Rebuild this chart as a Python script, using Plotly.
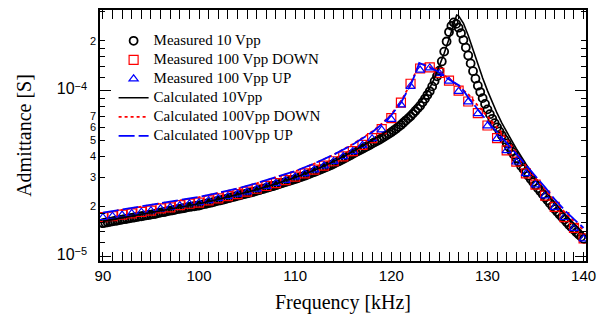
import plotly.graph_objects as go

# ---------------- data (admittance in S, frequency in kHz) ----------------
f_meas10 = [90, 90.25, 90.5, 90.75, 91, 91.25, 91.5, 91.75, 92, 92.25, 92.5, 92.75,
            93, 93.25, 93.5, 93.75, 94, 94.25, 94.5, 94.75, 95, 95.25, 95.5, 95.75,
            96, 96.25, 96.5, 96.75, 97, 97.25, 97.5, 97.75, 98, 98.25, 98.5, 98.75,
            99, 99.25, 99.5, 99.75, 100, 100.25, 100.5, 100.75, 101, 101.25, 101.5, 101.75,
            102, 102.25, 102.5, 102.75, 103, 103.25, 103.5, 103.75, 104, 104.25, 104.5, 104.75,
            105, 105.25, 105.5, 105.75, 106, 106.25, 106.5, 106.75, 107, 107.25, 107.5, 107.75,
            108, 108.25, 108.5, 108.75, 109, 109.25, 109.5, 109.75, 110, 110.25, 110.5, 110.75,
            111, 111.25, 111.5, 111.75, 112, 112.25, 112.5, 112.75, 113, 113.25, 113.5, 113.75,
            114, 114.25, 114.5, 114.75, 115, 115.25, 115.5, 115.75, 116, 116.25, 116.5, 116.75,
            117, 117.25, 117.5, 117.75, 118, 118.25, 118.5, 118.75, 119, 119.25, 119.5, 119.75,
            120, 120.25, 120.5, 120.75, 121, 121.25, 121.5, 121.75, 122, 122.25, 122.5, 122.75,
            123, 123.25, 123.5, 123.75, 124, 124.25, 124.5, 124.75, 125, 125.25, 125.5, 125.75,
            126, 126.25, 126.5, 126.75, 127, 127.25, 127.5, 127.75, 128, 128.25, 128.5, 128.75,
            129, 129.25, 129.5, 129.75, 130, 130.25, 130.5, 130.75, 131, 131.25, 131.5, 131.75,
            132, 132.25, 132.5, 132.75, 133, 133.25, 133.5, 133.75, 134, 134.25, 134.5, 134.75,
            135, 135.25, 135.5, 135.75, 136, 136.25, 136.5, 136.75, 137, 137.25, 137.5, 137.75,
            138, 138.25, 138.5, 138.75, 139, 139.25, 139.5, 139.75, 140]
y_meas10_e5 = [1.58, 1.59, 1.60, 1.61, 1.62, 1.63, 1.64, 1.65, 1.66, 1.67, 1.68, 1.69,
               1.70, 1.71, 1.72, 1.73, 1.74, 1.75, 1.76, 1.77, 1.78, 1.79, 1.80, 1.82,
               1.83, 1.84, 1.85, 1.87, 1.88, 1.89, 1.90, 1.92, 1.93, 1.94, 1.95, 1.97,
               1.98, 1.99, 2.00, 2.01, 2.02, 2.04, 2.06, 2.07, 2.09, 2.10, 2.12, 2.14,
               2.16, 2.17, 2.19, 2.21, 2.23, 2.25, 2.27, 2.29, 2.31, 2.33, 2.35, 2.37,
               2.39, 2.41, 2.43, 2.45, 2.48, 2.50, 2.53, 2.55, 2.58, 2.60, 2.63, 2.65,
               2.68, 2.71, 2.74, 2.77, 2.80, 2.83, 2.86, 2.89, 2.92, 2.95, 2.99, 3.02,
               3.06, 3.10, 3.14, 3.18, 3.22, 3.26, 3.31, 3.35, 3.40, 3.45, 3.50, 3.55,
               3.61, 3.67, 3.73, 3.79, 3.86, 3.93, 4.00, 4.07, 4.15, 4.22, 4.30, 4.37,
               4.45, 4.53, 4.61, 4.69, 4.78, 4.87, 4.96, 5.05, 5.15, 5.26, 5.37, 5.48,
               5.60, 5.74, 5.88, 6.04, 6.20, 6.39, 6.59, 6.79, 7.00, 7.26, 7.53, 7.81,
               8.10, 8.50, 8.92, 9.40, 9.90, 10.6, 11.4, 12.2, 13.2, 15.0, 17.2, 19.8,
               22.6, 24.6, 25.8, 25.3, 24.0, 22.2, 20.2, 18.2, 16.3, 14.6, 13.1, 11.8,
               10.7, 9.8, 9.0, 8.3, 7.7, 7.2, 6.75, 6.35, 6.00, 5.67, 5.35, 5.07,
               4.80, 4.55, 4.30, 4.10, 3.90, 3.70, 3.50, 3.35, 3.20, 3.06, 2.92, 2.80,
               2.68, 2.57, 2.46, 2.36, 2.26, 2.17, 2.08, 2.00, 1.92, 1.85, 1.78, 1.72,
               1.66, 1.60, 1.54, 1.49, 1.44, 1.39, 1.35, 1.31, 1.27]

f_meas100 = [90, 91, 92, 93, 94, 95, 96, 97, 98, 99,
             100, 101, 102, 103, 104, 105, 106, 107, 108, 109,
             110, 111, 112, 113, 114, 115, 116, 117, 118, 119,
             120, 121, 122, 123, 124, 125, 126, 127, 128, 129,
             130, 131, 132, 133, 134, 135, 136, 137, 138, 139, 140]
y_meas100_down_e5 = [1.72, 1.74, 1.78, 1.81, 1.85, 1.88, 1.94, 1.97, 2.03, 2.07,
                     2.10, 2.17, 2.23, 2.30, 2.37, 2.45, 2.55, 2.65, 2.76, 2.88,
                     3.02, 3.16, 3.33, 3.52, 3.74, 4.00, 4.30, 4.70, 5.16, 5.85,
                     6.81, 8.45, 11.0, 13.6, 13.8, 12.8, 11.5, 10.0, 8.59, 7.30,
                     6.15, 5.16, 4.35, 3.72, 3.16, 2.70, 2.32, 1.98, 1.72, 1.48, 1.28]
y_meas100_up_e5 = [1.71, 1.74, 1.77, 1.81, 1.84, 1.88, 1.93, 1.97, 2.02, 2.07,
                   2.10, 2.16, 2.23, 2.29, 2.37, 2.44, 2.54, 2.64, 2.75, 2.87,
                   3.01, 3.15, 3.32, 3.51, 3.73, 3.99, 4.28, 4.67, 5.12, 5.78,
                   6.70, 8.20, 10.6, 13.3, 13.7, 12.7, 11.4, 9.9, 8.55, 7.25,
                   6.12, 5.13, 4.33, 3.70, 3.15, 2.69, 2.31, 1.97, 1.71, 1.47, 1.27]

f_calc10 = [90, 92, 94, 96, 98, 100, 102, 104, 106, 108, 110, 112, 114, 116, 117, 118, 119, 120,
            121, 122, 123, 123.5, 124, 124.5, 125, 125.5, 126, 126.5, 126.8, 127, 127.5, 128,
            128.5, 129, 129.5, 130, 130.5, 131, 131.5, 132, 132.5, 133, 134, 135, 136, 137, 138, 139, 140]
y_calc10_e5 = [1.62, 1.70, 1.78, 1.88, 1.97, 2.07, 2.20, 2.35, 2.52, 2.73,
               2.98, 3.30, 3.72, 4.28, 4.62, 5.00, 5.42, 5.92,
               6.55, 7.35, 8.50, 9.30, 10.4, 11.9, 14.0, 16.8, 20.5, 25.5,
               28.6, 28.3, 25.5, 21.5,
               17.6, 14.4, 11.9, 10.0, 8.5, 7.3, 6.35, 5.6, 5.0, 4.45,
               3.6, 2.95, 2.47, 2.10, 1.80, 1.57, 1.37]

f_calc100_down = [90, 92, 94, 96, 98, 100, 102, 104, 106, 108, 110, 112, 114, 116, 117, 118, 119, 120,
                  121, 122, 122.5, 122.9, 123.3, 124, 125, 126, 127, 128, 129, 130, 131, 132, 133,
                  134, 135, 136, 137, 138, 139, 140]
y_calc100_down_e5 = [1.82, 1.90, 1.98, 2.08, 2.17, 2.27, 2.40, 2.55, 2.75, 2.98,
                     3.25, 3.62, 4.10, 4.75, 5.15, 5.65, 6.30, 7.20,
                     8.60, 11.0, 12.8, 14.5, 14.5, 13.9, 12.9, 11.8, 10.6, 9.5,
                     8.1, 7.0, 6.0, 5.1, 4.2, 3.5, 2.95, 2.5, 2.15, 1.85,
                     1.62, 1.43]

f_calc100_up = [90, 92, 94, 96, 98, 100, 102, 104, 106, 108, 110, 112, 114, 116, 117, 118, 119, 120,
                121, 122, 122.5, 122.9, 123.5, 124, 124.8, 125.7, 126.5, 127.2, 128, 129, 130, 131,
                132, 133, 134, 135, 136, 137, 138, 139, 140]
y_calc100_up_e5 = [1.83, 1.91, 1.99, 2.09, 2.18, 2.28, 2.41, 2.56, 2.76, 2.99,
                   3.26, 3.63, 4.10, 4.72, 5.12, 5.60, 6.25, 7.10,
                   8.45, 10.8, 12.6, 14.7, 14.2, 13.8, 13.1, 12.0, 11.3, 10.6,
                   9.1, 7.7, 6.5, 5.6, 4.85, 4.15, 3.55, 3.05, 2.6, 2.2,
                   1.9, 1.67, 1.48]

legend_names = ["Measured 10 Vpp", "Measured 100 Vpp DOWN", "Measured 100 Vpp UP",
                "Calculated 10Vpp", "Calculated 100Vpp DOWN", "Calculated 100Vpp UP"]

x_ticks = [90, 100, 110, 120, 130, 140]
y_label_vals = [1e-5, 2e-5, 3e-5, 4e-5, 5e-5, 6e-5, 7e-5, 1e-4, 2e-4]
y_label_text = ["10", "2", "3", "4", "5", "6", "7", "10", "2"]
y_label_exp = ["\u22125", None, None, None, None, None, None, "\u22124", None]
y_minor_vals = [1.2e-5, 1.4e-5, 1.6e-5, 1.8e-5, 8e-5, 9e-5, 1.2e-4, 1.4e-4, 1.6e-4, 1.8e-4, 3e-4]
y_decades = [1e-5, 1e-4]

# ---------------- figure ----------------
SERIF = "Liberation Serif, Times New Roman, serif"
SANS = "Liberation Sans, Arial, sans-serif"
E5 = 1e-5


def scaled(vals):
    return [v * E5 for v in vals]


def leg(name):
    return '<span style="font-size:15px">' + name + '</span>'


tick_text = []
for t, e in zip(y_label_text, y_label_exp):
    if e is None:
        tick_text.append(t)
    else:
        tick_text.append('<span style="font-size:16px">' + t + '</span><sup>'
                         + '<span style="font-size:11px">' + e + '</span></sup>'
                         + '<span style="font-size:16px">&nbsp;&nbsp;</span>')

fig = go.Figure()

fig.add_trace(go.Scatter(x=f_meas10, y=scaled(y_meas10_e5), mode="markers", name=leg(legend_names[0]),
                         marker=dict(symbol="circle-open", size=8, color="black", line=dict(width=1.8))))
fig.add_trace(go.Scatter(x=f_meas100, y=scaled(y_meas100_down_e5), mode="markers", name=leg(legend_names[1]),
                         marker=dict(symbol="square-open", size=9, color="red", line=dict(width=1.2))))
fig.add_trace(go.Scatter(x=f_meas100, y=scaled(y_meas100_up_e5), mode="markers", name=leg(legend_names[2]),
                         marker=dict(symbol="triangle-up-open", size=8, color="blue", line=dict(width=1.2))))
fig.add_trace(go.Scatter(x=f_calc10, y=scaled(y_calc10_e5), mode="lines", name=leg(legend_names[3]),
                         line=dict(color="black", width=1.6)))
fig.add_trace(go.Scatter(x=f_calc100_down, y=scaled(y_calc100_down_e5), mode="lines", name=leg(legend_names[4]),
                         line=dict(color="red", width=1.8, dash="3px,3px")))
fig.add_trace(go.Scatter(x=f_calc100_up, y=scaled(y_calc100_up_e5), mode="lines", name=leg(legend_names[5]),
                         line=dict(color="blue", width=1.8, dash="16px,4px")))

# invisible helper trace on an overlaid axis carrying the long decade ticks
fig.add_trace(go.Scatter(x=[f_meas100[0]], y=[y_decades[0]], yaxis="y2", mode="markers", showlegend=False,
                         marker=dict(opacity=0), hoverinfo="skip"))

ymin, ymax = -5.03, -3.513
fig.update_layout(
    width=604, height=327,
    margin=dict(l=100, r=12, t=8, b=66),
    paper_bgcolor="white", plot_bgcolor="white",
    showlegend=True,
    legend=dict(x=0.028, y=0.935, xanchor="left", yanchor="top",
                bgcolor="rgba(0,0,0,0)", font=dict(family=SERIF, size=11.4, color="black"),
                tracegroupgap=0, itemwidth=30),
    xaxis=dict(range=[89.7, 140.25], tickvals=x_ticks, ticks="inside", ticklen=9, tickwidth=1.2,
               tickcolor="black", showline=True, linecolor="black", linewidth=1.5, mirror="allticks",
               showgrid=False, zeroline=False,
               tickfont=dict(family=SANS, size=15, color="black"),
               minor=dict(dtick=1, tick0=90, ticks="inside", ticklen=5, tickwidth=1.2, tickcolor="black",
                          showgrid=False),
               title=dict(text="Frequency [kHz]", font=dict(family=SERIF, size=20, color="black"),
                          standoff=12)),
    yaxis=dict(type="log", range=[ymin, ymax], tickmode="array", tickvals=y_label_vals,
               ticktext=tick_text, ticks="inside", ticklen=5, tickwidth=1.2, tickcolor="black",
               showline=True, linecolor="black", linewidth=1.5, mirror="allticks",
               showgrid=False, zeroline=False,
               tickfont=dict(family=SANS, size=11, color="black"),
               minor=dict(tickmode="array", tickvals=y_minor_vals, ticks="inside", ticklen=5,
                          tickwidth=1.2, tickcolor="black", showgrid=False),
               title=dict(text="Admittance [S]", font=dict(family=SERIF, size=20, color="black"),
                          standoff=20)),
    yaxis2=dict(type="log", range=[ymin, ymax], overlaying="y", side="left", tickmode="array",
                tickvals=y_decades, ticks="inside", ticklen=11, tickwidth=1.2, tickcolor="black",
                showticklabels=False, showgrid=False, zeroline=False, showline=False,
                mirror="allticks", matches="y"),
)

fig.write_html("out.html", config={"displayModeBar": False},
               post_script="document.body.style.margin='0';document.body.style.padding='0';")
